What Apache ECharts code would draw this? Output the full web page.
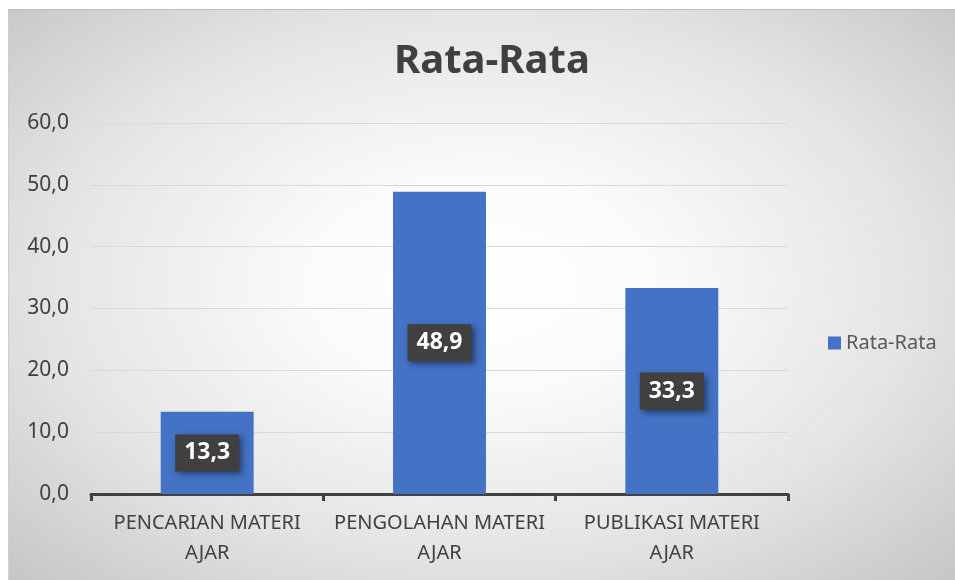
<!DOCTYPE html>
<html>
<head>
<meta charset="utf-8">
<script src="https://cdn.jsdelivr.net/npm/echarts@6/dist/echarts.min.js"></script>
<style>
  html, body { margin: 0; padding: 0; background: #fff; }
  #chart {
    position: absolute;
    left: 8px;
    top: 9px;
    width: 947px;
    height: 571px;
    border-top: 1px solid #bdbdbd;
    border-left: 1px solid #cfcfcf;
    box-sizing: border-box;
    background: radial-gradient(ellipse farthest-corner at 50% 48%, #ffffff 0%, #fbfbfb 25%, #e4e4e4 65%, #c6c6c6 100%);
  }
</style>
</head>
<body>
<div id="chart"></div>
<script>
  // data
  var categories = ["PENCARIAN MATERI AJAR", "PENGOLAHAN MATERI AJAR", "PUBLIKASI MATERI AJAR"];
  var rataRata = [13.3, 48.9, 33.3];
  var seriesName = "Rata-Rata";

  function comma(v) {
    return Number(v).toFixed(1).replace(".", ",");
  }

  var myChart = echarts.init(document.getElementById("chart"));
  var option = {
    backgroundColor: "transparent",
    textStyle: { fontFamily: "Noto Sans" },
    title: {
      text: "Rata-Rata",
      left: 380,
      top: 27,
      textStyle: {
        fontFamily: "Noto Sans",
        fontSize: 40,
        fontWeight: "bold",
        color: "#404040",
      },
    },
    legend: {
      data: [seriesName],
      left: 814,
      top: 318,
      itemWidth: 13,
      itemHeight: 13,
      itemGap: 6,
      icon: "rect",
      textStyle: { fontSize: 20, color: "#595959" },
    },
    grid: {
      left: 82,
      right: 167,
      top: 113,
      bottom: 86,
      containLabel: false,
    },
    xAxis: {
      type: "category",
      data: categories,
      axisLine: { lineStyle: { color: "#404040", width: 3 } },
      axisTick: {
        show: true,
        alignWithLabel: false,
        length: 7,
        lineStyle: { color: "#404040", width: 3 },
      },
      axisLabel: {
        interval: 0,
        margin: 14,
        fontSize: 20,
        lineHeight: 30,
        color: "#404040",
        formatter: function (v) {
          var i = v.lastIndexOf(" ");
          return v.slice(0, i) + "\n" + v.slice(i + 1);
        },
      },
    },
    yAxis: {
      type: "value",
      min: 0,
      max: 60,
      interval: 10,
      axisLine: { show: false },
      axisTick: { show: false },
      splitLine: { lineStyle: { color: "#d9d9d9", width: 1 } },
      axisLabel: {
        margin: 22,
        fontSize: 21,
        color: "#404040",
        formatter: comma,
      },
    },
    series: [
      {
        name: seriesName,
        type: "bar",
        barWidth: "40%",
        data: rataRata,
        itemStyle: { color: "#4472C4" },
        label: {
          show: true,
          position: "inside",
          formatter: function (p) {
            return comma(p.value);
          },
          fontSize: 23,
          fontWeight: "bold",
          color: "#ffffff",
          backgroundColor: "#404040",
          padding: [8, 9, 6, 9],
          shadowColor: "rgba(0,0,0,0.45)",
          shadowBlur: 6,
          shadowOffsetX: 3,
          shadowOffsetY: 3,
        },
      },
    ],
  };
  myChart.setOption(option);
</script>
</body>
</html>
